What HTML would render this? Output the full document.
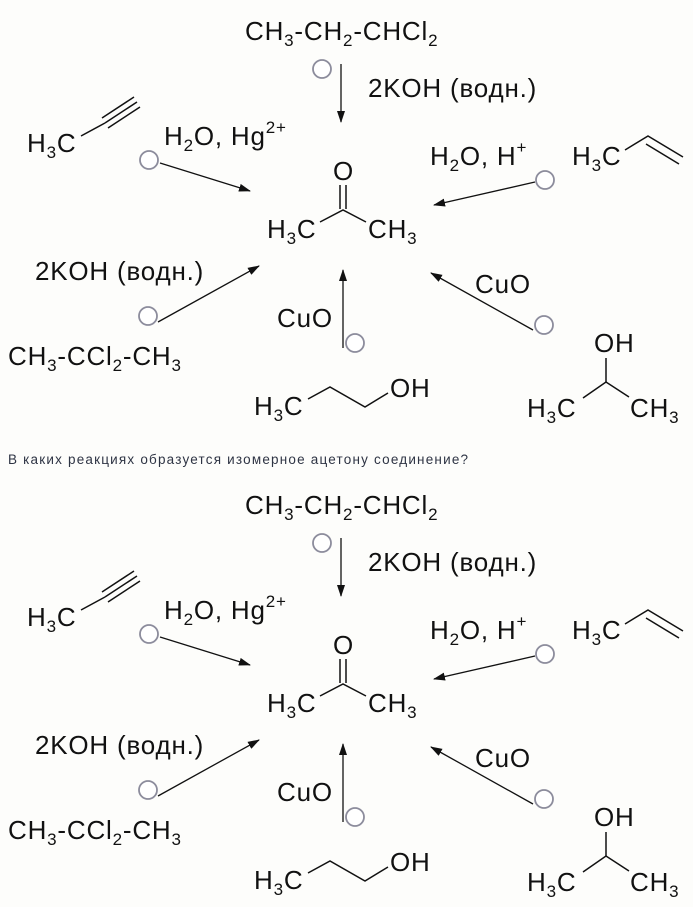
<!DOCTYPE html>
<html><head><meta charset="utf-8"><style>
html,body{margin:0;padding:0;background:#fdfdfb;}
svg{display:block;}
text{font-family:"Liberation Sans",sans-serif;fill:#111;font-size:26px;letter-spacing:0.8px;}
.s{font-size:17px;}
.q{font-size:13.5px;fill:#2e3444;letter-spacing:1.2px;}
</style></head><body>
<svg width="693" height="907" viewBox="0 0 693 907" xmlns="http://www.w3.org/2000/svg">
<defs>
<marker id="ah" markerWidth="12" markerHeight="8" refX="11" refY="4" orient="auto" markerUnits="userSpaceOnUse">
<path d="M0,0 L12,4 L0,8 Z" fill="#111"/>
</marker>
<g id="d">
<text x="245" y="40">CH<tspan class="s" dy="6">3</tspan><tspan dy="-6">-CH</tspan><tspan class="s" dy="6">2</tspan><tspan dy="-6">-CHCl</tspan><tspan class="s" dy="6">2</tspan></text>
<circle cx="322" cy="69" r="9" fill="#fff" stroke="#8c8c9c" stroke-width="1.8"/>
<line x1="341" y1="64" x2="341" y2="122" stroke="#111" stroke-width="1.3" marker-end="url(#ah)"/>
<text x="368" y="97">2KOH (водн.)</text>

<text x="27" y="152">H<tspan class="s" dy="6">3</tspan><tspan dy="-6">C</tspan></text>
<g stroke="#111" stroke-width="1.5" fill="none">
<line x1="81" y1="136" x2="105" y2="123"/>
<line x1="105" y1="123" x2="137" y2="102"/>
<line x1="102" y1="118" x2="134" y2="97"/>
<line x1="108" y1="128" x2="140" y2="107"/>
</g>
<text x="164" y="145">H<tspan class="s" dy="6">2</tspan><tspan dy="-6">O, Hg</tspan><tspan class="s" dy="-12">2+</tspan></text>
<circle cx="149" cy="160" r="9" fill="#fff" stroke="#8c8c9c" stroke-width="1.8"/>
<line x1="160" y1="163" x2="250" y2="191" stroke="#111" stroke-width="1.3" marker-end="url(#ah)"/>

<text x="333" y="180">O</text>
<g stroke="#111" stroke-width="1.5" fill="none">
<line x1="340" y1="185" x2="340" y2="209"/>
<line x1="346" y1="185" x2="346" y2="209"/>
<polyline points="320,222 343,210 366,222"/>
</g>
<text x="267" y="238">H<tspan class="s" dy="6">3</tspan><tspan dy="-6">C</tspan></text>
<text x="368" y="238">CH<tspan class="s" dy="6">3</tspan></text>

<text x="430" y="165">H<tspan class="s" dy="6">2</tspan><tspan dy="-6">O, H</tspan><tspan class="s" dy="-12">+</tspan></text>
<text x="572" y="165">H<tspan class="s" dy="6">3</tspan><tspan dy="-6">C</tspan></text>
<g stroke="#111" stroke-width="1.5" fill="none">
<polyline points="625,150 648,136 683,157"/>
<line x1="646" y1="144" x2="679" y2="164"/>
</g>
<circle cx="545" cy="180" r="9" fill="#fff" stroke="#8c8c9c" stroke-width="1.8"/>
<line x1="535" y1="182" x2="434" y2="205" stroke="#111" stroke-width="1.3" marker-end="url(#ah)"/>

<text x="35" y="280">2KOH (водн.)</text>
<circle cx="148" cy="316" r="9" fill="#fff" stroke="#8c8c9c" stroke-width="1.8"/>
<line x1="158" y1="322" x2="259" y2="266" stroke="#111" stroke-width="1.3" marker-end="url(#ah)"/>
<text x="8" y="365">CH<tspan class="s" dy="6">3</tspan><tspan dy="-6">-CCl</tspan><tspan class="s" dy="6">2</tspan><tspan dy="-6">-CH</tspan><tspan class="s" dy="6">3</tspan></text>

<text x="277" y="327">CuO</text>
<line x1="343" y1="348" x2="343" y2="270" stroke="#111" stroke-width="1.3" marker-end="url(#ah)"/>
<circle cx="355" cy="343" r="9" fill="#fff" stroke="#8c8c9c" stroke-width="1.8"/>

<text x="475" y="293">CuO</text>
<line x1="533" y1="330" x2="431" y2="273" stroke="#111" stroke-width="1.3" marker-end="url(#ah)"/>
<circle cx="544" cy="325" r="9" fill="#fff" stroke="#8c8c9c" stroke-width="1.8"/>

<text x="254" y="415">H<tspan class="s" dy="6">3</tspan><tspan dy="-6">C</tspan></text>
<polyline points="308,399 330,387 365,407 388,393" stroke="#111" stroke-width="1.5" fill="none"/>
<text x="390" y="397">OH</text>

<text x="594" y="352">OH</text>
<g stroke="#111" stroke-width="1.5" fill="none">
<line x1="606" y1="358" x2="606" y2="382"/>
<polyline points="583,398 606,382 629,397"/>
</g>
<text x="527" y="417">H<tspan class="s" dy="6">3</tspan><tspan dy="-6">C</tspan></text>
<text x="630" y="417">CH<tspan class="s" dy="6">3</tspan></text>
</g>
</defs>
<use href="#d"/>
<text class="q" x="8" y="464">В каких реакциях образуется изомерное ацетону соединение?</text>
<use href="#d" transform="translate(0,474)"/>
</svg>
</body></html>
